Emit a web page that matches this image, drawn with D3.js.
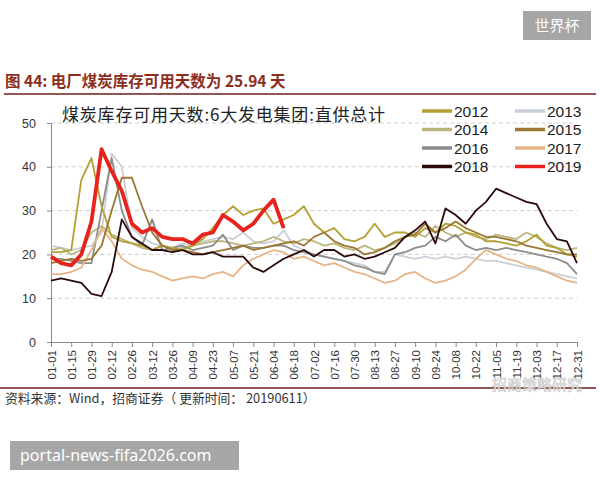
<!DOCTYPE html>
<html><head><meta charset="utf-8">
<script src="https://cdn.jsdelivr.net/npm/d3@7/dist/d3.min.js"></script>
<style>body{margin:0;background:#fff}svg{display:block}</style>
</head><body><svg id="c" width="600" height="480"></svg>
<script>
const years = ["2012","2013","2014","2015","2016","2017","2018","2019"];
const colors = ["#B3A032","#C9D0D8","#BDB67C","#9C7633","#8C8C8C","#E6B486","#2B0A0A","#E8231E"];
const xTickLabels = ["01-01","01-15","01-29","02-12","02-26","03-12","03-26","04-09","04-23","05-07","05-21","06-04","06-18","07-02","07-16","07-30","08-13","08-27","09-10","09-24","10-08","10-22","11-05","11-19","12-03","12-17","12-31"];
const yTicks = [0,10,20,30,40,50];
// weekly samples starting 01-01 (every 7 days)
const v2012 = [20.5,20.5,21,37,42,31,24,23,22.5,22,21,22,21.5,21,22,23.5,26,29,31,29,30,30.5,27,28,29,31,27,25,26,23.5,23,24,27,24,25,25,24,26,25,27,26.5,25,24.5,23,23,22.5,22,23,24.5,22,21.5,20,19.5];
const v2013 = [22,21.5,21,21.5,22,25,43,40,26,24,22.5,22,21.5,22.5,22,23,23.5,24,23.5,25,23,22.5,23,25.5,22,21,20,19.5,19,18.5,18,17.5,16,16,20,19.5,19,19.5,19,19.5,19,19.5,19,18.5,18.5,18,17.5,17,16.5,16,15.5,15,14.5];
const v2014 = [21,21.5,20,21,25,26.5,24.5,23.5,22.5,21.5,21,22,21,21.5,22,22.5,23,23,22.5,22,22.5,23,24,23,22.5,23.5,23,22,22.5,21.5,21,22,21,21.5,22.5,24,25,24,26.5,25,24,25,24,23.5,24.5,24,23.5,25,24,22.5,21.5,21,21.5];
const v2015 = [18,18.5,19,18.5,19,22,30,37.5,37.5,31,25,22,21,21,20.5,20,20.5,21,21.5,22,21,21.5,22,22.5,23,22,24,25,23,22,21.5,20,20.5,21.5,23,24,24.5,27,25,26,27.5,26,25,24,24,23.5,23,22,21.5,21,20.5,20,20];
const v2016 = [19,19,18.5,18,18,30,42,30,24,22,28,21,21.5,22,21,21.5,22,24.5,21,22,21.5,21.5,22,22,21,20.5,20,19.5,19,18.5,17.5,17,16,15.5,20,20.5,21.5,22,24,23,24.5,22,21,21.5,21,21.5,21,20.5,20,19.5,19,18,15.5];
const v2017 = [15.5,15.5,16,17,21,26,23,19,17.5,16.5,16,15,14,14.5,15,14.5,15.5,16,15,17.5,19,20,21,20.5,19,19.5,18.5,17.5,18,17,16,15.5,14.5,13.5,14,15.5,16,14.5,13.5,14,15,16.5,19,21,20,19,18.5,17.5,17,16,15,14,13.5];
const v2018 = [14,14.5,14,13.5,11,10.5,16,28,24,22.5,21,21,20.5,21,20,20,20.5,19.5,19.5,19.5,17,16,17.5,19,20,21,19.5,21,21,19.5,20,19,19.5,20.5,21.5,24,25.5,27.5,22.5,30.5,29,27,30,32,35,34,33,32,31.5,27,23.5,23,18];
const v2019 = [19.5,18,17.5,20,27.5,44,39,34.5,27,25,26,24,23.5,23.5,22.5,24.5,25,29,27.5,25.5,27,30,32.5,26];
const seriesValues = [v2012,v2013,v2014,v2015,v2016,v2017,v2018,v2019];

const svg = d3.select("#c");
const x = d3.scaleLinear().domain([0,364]).range([51,577]);
const y = d3.scaleLinear().domain([0,50]).range([342,123]);
const parse = d3.timeParse("%Y-%m-%d");
const dayOf = s => d3.timeDay.count(parse("2018-01-01"), parse("2018-" + s));

// watermark boxes
svg.append("rect").attr("x",523).attr("y",11).attr("width",68).attr("height",29).attr("fill","#a6a6a6");
svg.append("text").attr("x",557).attr("y",31).attr("text-anchor","middle").attr("fill","#fff")
  .attr("font-family","Noto Sans CJK SC").attr("font-size",15).text("世界杯");
svg.append("rect").attr("x",10).attr("y",441).attr("width",229).attr("height",29).attr("fill","#a6a6a6");
svg.append("text").attr("x",20).attr("y",461).attr("fill","#fff")
  .attr("font-family","Noto Sans, DejaVu Sans").attr("font-size",16).text("portal-news-fifa2026.com");

// title
svg.append("text").attr("x",5).attr("y",87).attr("fill","#8B2E1E").attr("font-weight","bold")
  .attr("font-family","Noto Sans CJK SC").attr("font-size",15.5).text("图 44: 电厂煤炭库存可用天数为 25.94 天");
svg.append("line").attr("x1",4).attr("x2",596).attr("y1",94).attr("y2",94).attr("stroke","#6E1F1A").attr("stroke-width",1.6);

// gridlines
svg.append("g").selectAll("line").data(yTicks.filter(d=>d>0)).join("line")
  .attr("x1",x(0)).attr("x2",x(364)).attr("y1",d=>y(d)).attr("y2",d=>y(d))
  .attr("stroke","#cfcfcf").attr("stroke-dasharray","4,3").attr("stroke-width",1);

// y axis
const ya = svg.append("g").attr("transform",`translate(${x(0)},0)`)
  .call(d3.axisLeft(y).tickValues(yTicks).tickSize(4).tickPadding(11));
ya.select(".domain").attr("stroke","#888");
ya.selectAll(".tick line").attr("stroke","#888");
ya.selectAll("text").attr("font-family","Liberation Sans, Arial").attr("font-size",12.5).attr("fill","#333");

// x axis
const xa = svg.append("g").attr("transform",`translate(0,${y(0)})`)
  .call(d3.axisBottom(x).tickValues(xTickLabels.map(dayOf)).tickSize(5)
    .tickFormat((d,i)=>xTickLabels[i]));
xa.select(".domain").attr("stroke","#888");
xa.selectAll(".tick line").attr("stroke","#888");
xa.selectAll("text").attr("font-family","Liberation Sans, Arial").attr("font-size",11.5).attr("fill","#333")
  .attr("transform","rotate(-90)").attr("text-anchor","end").attr("x",-8).attr("y",0).attr("dy","0.35em");

// lines
const line = d3.line().x((d,i)=>x(i*7)).y(d=>y(d));
const order = [1,2,4,5,0,3,6,7];
order.forEach(k=>{
  svg.append("path").datum(seriesValues[k]).attr("d",line).attr("fill","none")
    .attr("stroke",colors[k]).attr("stroke-width",k===7?3.8:1.8).attr("stroke-linejoin","round");
});

// inner title
svg.append("text").attr("x",62).attr("y",121).attr("fill","#222").attr("letter-spacing",0.8)
  .attr("font-family","Noto Sans CJK SC").attr("font-size",17).text("煤炭库存可用天数:6大发电集团:直供总计");

// legend
const lg = svg.append("g");
years.forEach((yr,i)=>{
  const col = i%2, row = Math.floor(i/2);
  const lx = col===0?422:515, ly = 111 + row*18.5;
  lg.append("line").attr("x1",lx).attr("x2",lx+30).attr("y1",ly).attr("y2",ly)
    .attr("stroke",colors[i]).attr("stroke-width",3.5);
  lg.append("text").attr("x",lx+32).attr("y",ly+5.5).attr("font-family","Liberation Sans, Arial")
    .attr("font-size",15.5).attr("fill","#222").text(yr);
});

// source
svg.append("line").attr("x1",0).attr("x2",596).attr("y1",388).attr("y2",388).attr("stroke","#6E1F1A").attr("stroke-width",1.6);
svg.append("text").attr("x",5).attr("y",403).attr("fill","#333")
  .attr("font-family","Noto Sans CJK SC").attr("font-size",12.8).text("资料来源：Wind，招商证券（ 更新时间： 20190611）");
svg.append("text").attr("x",492).attr("y",390).attr("fill","#f0f0f0").attr("stroke","#c8c8c8").attr("stroke-width",0.6)
  .attr("font-family","Noto Sans CJK SC").attr("font-size",15).text("招商策略研究");
</script></body></html>
